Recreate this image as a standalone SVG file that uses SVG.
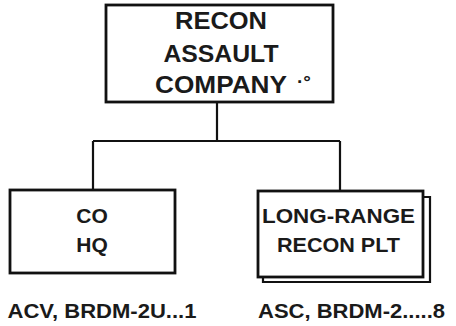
<svg xmlns="http://www.w3.org/2000/svg" width="456" height="326" viewBox="0 0 456 326">
<style>
.box{fill:#fff;stroke:#111;stroke-width:2.8}
.con{fill:none;stroke:#111;stroke-width:2.2}
text{font-family:"Liberation Sans",Arial,sans-serif;font-weight:bold;fill:#1a1a1a;text-anchor:middle}
</style>
<rect width="456" height="326" fill="#fff"/>
<g id="connectors">
<path class="con" d="M217,102 V141 M93,141 H340 M93,141 V190 M340,141 V191"/>
</g>
<g id="recon-assault-company">
<rect class="box" x="106" y="5" width="227" height="97"/>
<text x="221" y="29" font-size="24" textLength="92" lengthAdjust="spacingAndGlyphs">RECON</text>
<text x="221" y="62" font-size="24" textLength="115" lengthAdjust="spacingAndGlyphs">ASSAULT</text>
<text x="221" y="93" font-size="24" textLength="132" lengthAdjust="spacingAndGlyphs">COMPANY</text>
<text x="304" y="88" font-size="19">·°</text>
</g>
<g id="co-hq">
<rect class="box" x="10" y="190" width="165" height="83"/>
<text x="92" y="223" font-size="21">CO</text>
<text x="92" y="252" font-size="21">HQ</text>
<text x="102" y="318" font-size="21" textLength="189" lengthAdjust="spacingAndGlyphs">ACV, BRDM-2U...1</text>
</g>
<g id="long-range-recon-plt">
<path class="con" d="M423,197 H430 V282 H263 V277"/>
<rect class="box" x="258" y="191" width="165" height="86"/>
<text x="338.5" y="223" font-size="21" textLength="153" lengthAdjust="spacingAndGlyphs">LONG-RANGE</text>
<text x="338.5" y="252" font-size="21" textLength="123" lengthAdjust="spacingAndGlyphs">RECON PLT</text>
<text x="351.5" y="318" font-size="21" textLength="187" lengthAdjust="spacingAndGlyphs">ASC, BRDM-2.....8</text>
</g>
</svg>
